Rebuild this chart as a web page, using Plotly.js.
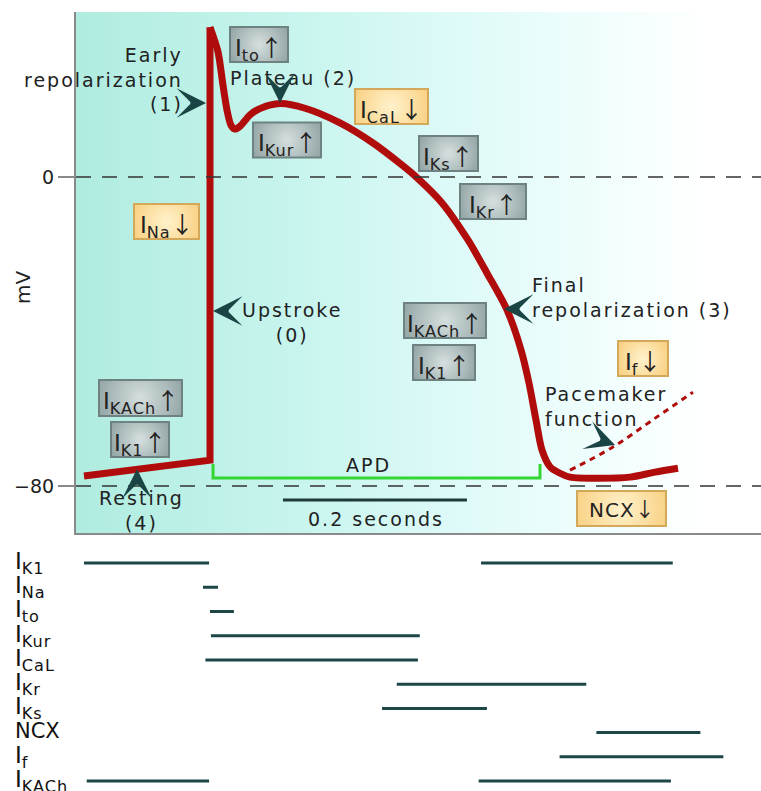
<!DOCTYPE html>
<html><head><meta charset="utf-8">
<script src="https://cdn.plot.ly/plotly-3.0.1.min.js"></script>
<style>html,body{margin:0;padding:0;background:#fff}#chart{width:761px;height:791px}</style>
</head><body><div id="chart"></div>
<script>
// ---- Data (time in ms relative to the upstroke, potential in mV) ----
const restTime = [-137, 0, 0];
const restMv = [-77.4, -73.3, 38.8];
const repolTime = [0, 8.7, 14.1, 18.5, 22.8, 27, 33, 43.5, 54.3, 76.1, 103.3, 141.3, 177.2, 208.7, 222.8, 252.2, 280.4, 301.1, 322.8, 338.0, 346.7, 354.3, 360.9, 369.6, 380.4, 391.3, 423.9, 456.5, 483.7, 508.7];
const repolMv = [38.8, 32.4, 23.8, 17.3, 13.4, 12.4, 13.2, 16.1, 17.7, 19.0, 17.8, 14.0, 8.8, 3.1, 0.3, -6.7, -16.3, -24.9, -34.4, -44.7, -53.3, -62.9, -70.7, -75.0, -76.7, -77.7, -78.0, -77.7, -76.4, -75.4];
const pacemakerTime = [391.3, 438, 485.9, 525];
const pacemakerMv = [-75.9, -69.9, -62.1, -55.7];
const yTicks = [0, -80];
const yTickText = ['0', '\u221280'];
const apdStart = 3.3, apdEnd = 358.7;
const scaleBarStart = 79.3, scaleBarMs = 200;

const currents = ['I<sub>K1</sub>', 'I<sub>Na</sub>', 'I<sub>to</sub>', 'I<sub>Kur</sub>', 'I<sub>CaL</sub>', 'I<sub>Kr</sub>', 'I<sub>Ks</sub>', 'NCX', 'I<sub>f</sub>', 'I<sub>KACh</sub>'];
const activeStart = [[-137, 294.6], [-7.6], [0], [1], [-5], [203], [187], [420], [380], [-134, 292]];
const activeEnd = [[-1, 503], [8.7], [26], [228], [226], [409], [301], [533], [558], [-1, 501]];

// ---- helpers ----
const PXX = 0.92, PXY = 3.8625; // px per ms, px per mV
const FONT = 'DejaVu Sans, Open Sans, sans-serif';
function gradientURL(){
  const c=document.createElement('canvas'); c.width=685; c.height=521;
  const g=c.getContext('2d');
  const lg=g.createLinearGradient(0,0,685,0);
  lg.addColorStop(0,'#b0ece0'); lg.addColorStop(0.3,'#c6f4ed'); lg.addColorStop(0.55,'#ddfaf8');
  lg.addColorStop(0.78,'#f1fefd'); lg.addColorStop(0.92,'#ffffff'); lg.addColorStop(1,'#ffffff');
  g.fillStyle=lg; g.fillRect(0,0,685,521);
  return c.toDataURL();
}
function boxURL(kind,w,h){
  const c=document.createElement('canvas'); c.width=w; c.height=h;
  const g=c.getContext('2d');
  const rg=g.createRadialGradient(w/2,h/2,2,w/2,h/2,Math.max(w,h)*0.6);
  if(kind==='g'){ rg.addColorStop(0,'#d2dcdc'); rg.addColorStop(1,'#8a9d9d'); }
  else { rg.addColorStop(0,'#fff0c8'); rg.addColorStop(1,'#f8cc78'); }
  g.fillStyle=rg; g.fillRect(0,0,w,h);
  g.strokeStyle = kind==='g' ? '#6f8282' : '#d4a85a'; g.lineWidth=2; g.strokeRect(1,1,w-2,h-2);
  return c.toDataURL();
}
const ls = (t,px) => t.split('<br>').map(s=>`<span style="letter-spacing:${px}px">${s}</span>`).join('<br>');
const arrowSpan = a => `<span style="font-family:'Noto Sans CJK JP'">${a}</span>`;

// ---- traces ----
const red = '#b00c0c';
const segX = [], segY = [];
currents.forEach((c,i)=>{ activeStart[i].forEach((s,j)=>{ segX.push(s, activeEnd[i][j], null); segY.push(i, i, null); }); });

const traces = [
  {x: restTime, y: restMv, mode:'lines', line:{color:red, width:7, shape:'linear'}, hoverinfo:'skip'},
  {x: repolTime, y: repolMv, mode:'lines', line:{color:red, width:7, shape:'spline', smoothing:0.8}, hoverinfo:'skip'},
  {x: pacemakerTime, y: pacemakerMv, mode:'lines', line:{color:red, width:3, dash:'6px,5px', shape:'spline'}, hoverinfo:'skip'},
  {x: segX, y: segY, yaxis:'y2', mode:'lines', line:{color:'#1d4646', width:3}, hoverinfo:'skip', connectgaps:false}
];

// ---- boxes (center px coords converted to data) ----
const UP = '\u2191', DOWN = '\u2193';
const boxes = [
  {s:'I', sub:'to', a:UP, cx:259, cy:44.5, w:60, h:37, k:'g'},
  {s:'I', sub:'Kur', a:UP, cx:287, cy:140, w:70, h:37, k:'g'},
  {s:'I', sub:'CaL', a:DOWN, cx:391.5, cy:106.5, w:75, h:37, k:'y'},
  {s:'I', sub:'Ks', a:UP, cx:448.5, cy:153.5, w:61, h:37, k:'g'},
  {s:'I', sub:'Kr', a:UP, cx:493, cy:201.5, w:68, h:37, k:'g'},
  {s:'I', sub:'KACh', a:UP, cx:140.5, cy:398, w:85, h:38, k:'g'},
  {s:'I', sub:'K1', a:UP, cx:140, cy:439.5, w:60, h:37, k:'g'},
  {s:'I', sub:'KACh', a:UP, cx:445, cy:320.5, w:84, h:37, k:'g'},
  {s:'I', sub:'K1', a:UP, cx:444, cy:362.5, w:64, h:37, k:'g'},
  {s:'I', sub:'Na', a:DOWN, cx:166.5, cy:221.5, w:67, h:37, k:'y'},
  {s:'I', sub:'f', a:DOWN, cx:643, cy:358.5, w:52, h:37, k:'y'},
  {s:'NCX', sub:'', a:DOWN, cx:621.5, cy:508.5, w:91, h:37, k:'y', fs:20}
];
const toX = px => (px-210)/PXX, toY = py => (177-py)/PXY;

const images = [{source: gradientURL(), xref:'paper', yref:'paper', x:0, y:1, sizex:1, sizey:1-0.3312, xanchor:'left', yanchor:'top', sizing:'stretch', layer:'below'}];
const annotations = [];
const textColor = '#222';
boxes.forEach(b=>{
  images.push({source: boxURL(b.k,b.w,b.h), xref:'x', yref:'y', x:toX(b.cx-b.w/2), y:toY(b.cy-b.h/2), sizex:b.w/PXX, sizey:b.h/PXY, xanchor:'left', yanchor:'top', sizing:'stretch', layer:'above'});
  const txt = b.sub ? `${b.s}<sub><span style="letter-spacing:1px">${b.sub}</span></sub>${arrowSpan(b.a)}` : `<span style="letter-spacing:1px">${b.s}</span>${arrowSpan(b.a)}`;
  annotations.push({text:txt, x:toX(b.cx), y:toY(b.cy), xref:'x', yref:'y', showarrow:false, font:{family:FONT, size:b.fs||23, color:textColor}, xanchor:'center', yanchor:'middle', yshift: b.sub?-2:0});
});

const labels = [
  {t:'Early<br>repolarization<br>(1)', x:185, y:79, xa:'right', al:'right'},
  {t:'Plateau (2)', x:228, y:78, xa:'left', al:'left'},
  {t:'Upstroke<br>(0)', x:292, y:322, xa:'center', al:'center'},
  {t:'Final<br>repolarization (3)', x:530, y:297.5, xa:'left', al:'left'},
  {t:'Pacemaker<br>function', x:543, y:406.5, xa:'left', al:'left'},
  {t:'Resting<br>(4)', x:141, y:510.5, xa:'center', al:'center'},
  {t:'APD', x:368, y:465, xa:'center', al:'center'},
  {t:'0.2 seconds', x:376, y:519, xa:'center', al:'center'}
];
labels.forEach(l=>annotations.push({text:ls(l.t,2), x:toX(l.x), y:toY(l.y), xref:'x', yref:'y', showarrow:false, xanchor:l.xa, yanchor:'middle', align:l.al, font:{family:FONT, size:19, color:textColor}}));

// arrowheads: tip px, tail offset px
const heads = [
  {x:206, y:103, ax:-12, ay:0},
  {x:280, y:103, ax:0, ay:-12},
  {x:213, y:311, ax:12, ay:0},
  {x:504, y:309, ax:12, ay:0},
  {x:615, y:445, ax:-11.3, ay:-4},
  {x:137, y:469, ax:0, ay:12}
];
heads.forEach(h=>annotations.push({text:'', x:toX(h.x), y:toY(h.y), xref:'x', yref:'y', showarrow:true, arrowhead:3, arrowsize:3.5, arrowwidth:1.4, arrowcolor:'#1b4545', ax:h.ax, ay:h.ay, standoff:0}));

// mV title
annotations.push({text:'mV', xref:'paper', yref:'y', x:(23-76)/685, y:toY(288), textangle:-90, showarrow:false, font:{family:FONT, size:20, color:textColor}, xanchor:'center', yanchor:'middle'});

// current row labels
currents.forEach((c,i)=>annotations.push({text: c==='NCX' ? c : c.replace('<sub>','<sub><span style="letter-spacing:1px">').replace('</sub>','</span></sub>'), xref:'paper', yref:'y2', x:(13-76)/685, y:i, xanchor:'left', yanchor:'middle', showarrow:false, font:{family:FONT, size: c==='NCX'?21:23, color:'#111'}, yshift: c==='NCX'?2:0}));

const shapes = [
  {type:'line', xref:'paper', x0:0, x1:1, yref:'y', y0:0, y1:0, line:{color:'#333', width:1.6, dash:'15px,11px'}, layer:'above'},
  {type:'line', xref:'paper', x0:0, x1:1, yref:'y', y0:-80, y1:-80, line:{color:'#333', width:1.6, dash:'15px,11px'}, layer:'above'},
  {type:'path', xref:'x', yref:'y', path:`M${apdStart},${toY(464)} L${apdStart},${toY(478)} L${apdEnd},${toY(478)} L${apdEnd},${toY(464)}`, line:{color:'#33d633', width:3}},
  {type:'line', xref:'x', yref:'y', x0:scaleBarStart, x1:scaleBarStart+scaleBarMs, y0:toY(500), y1:toY(500), line:{color:'#1e3a3a', width:3}}
];

const layout = {
  width:761, height:791,
  margin:{l:76, r:0, t:12, b:0},
  paper_bgcolor:'#fff', plot_bgcolor:'rgba(0,0,0,0)',
  showlegend:false, hovermode:false,
  font:{family:FONT, color:textColor},
  xaxis:{range:[toX(76), toX(761)], showgrid:false, zeroline:false, showticklabels:false, ticks:'', showline:true, linecolor:'#8a8a8a', linewidth:2, anchor:'y', fixedrange:true},
  yaxis:{domain:[0.3312,1], range:[toY(533), toY(12)], tickvals:yTicks, ticktext:yTickText, ticks:'outside', ticklen:16, tickcolor:'#8a8a8a', tickwidth:1.5, tickfont:{family:FONT, size:19, color:textColor}, showgrid:false, zeroline:false, showline:true, linecolor:'#8a8a8a', linewidth:2, fixedrange:true},
  yaxis2:{domain:[0,0.31], range:[9.41,-0.557], visible:false, fixedrange:true},
  images, annotations, shapes
};
Plotly.newPlot('chart', traces, layout, {staticPlot:true, displayModeBar:false});
</script></body></html>
